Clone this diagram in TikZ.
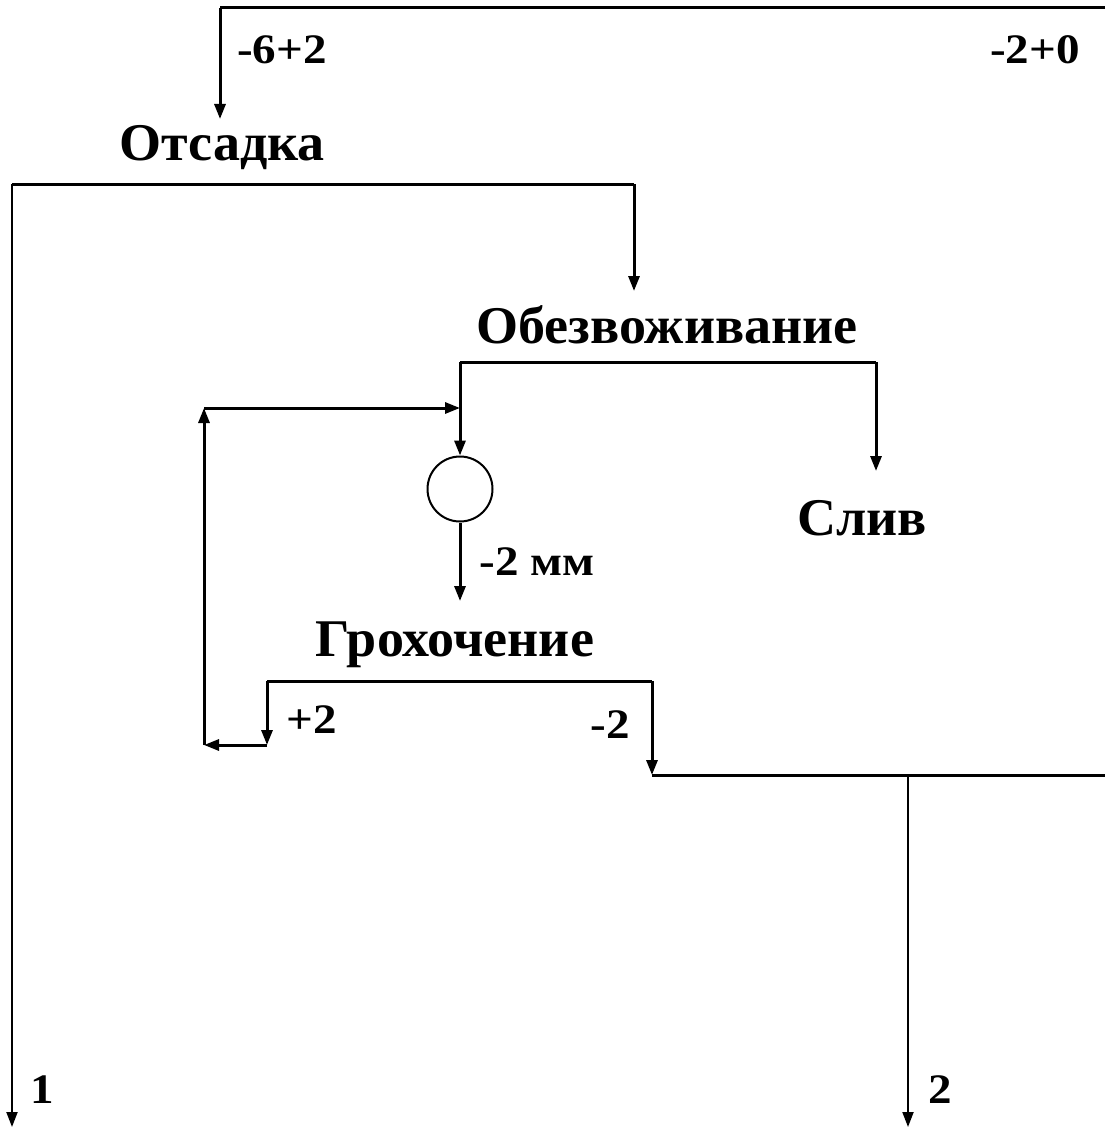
\documentclass[tikz,border=0pt]{standalone}
\usepackage{fontspec}
\setmainfont{Liberation Serif}
\usetikzlibrary{arrows.meta}
\tikzset{
  lbl/.style={font=\bfseries\fontsize{53}{58}\selectfont, inner sep=0pt, anchor=center, xscale=1.02},
  sml/.style={font=\bfseries\fontsize{42}{46}\selectfont, inner sep=0pt, anchor=center, xscale=1.12},
  flow/.style={line width=3pt},
  thinflow/.style={line width=2pt},
  arr/.style={-{Triangle[length=15pt,width=11pt]}},
}
\begin{document}
\begin{tikzpicture}[x=1pt,y=-1pt]
\useasboundingbox (0,0) rectangle (1105,1129);
% coordinates
\coordinate (tA) at (220,8);
\coordinate (tB) at (1105,8);
\coordinate (tIn) at (220,119);
\coordinate (oL) at (12,184);
\coordinate (oR) at (634,184);
\coordinate (out1) at (12,1127);
\coordinate (oIn) at (634,291);
\coordinate (bL) at (460,362);
\coordinate (bR) at (876,362);
\coordinate (slivIn) at (876,471);
\coordinate (rj) at (460,408);
\coordinate (gL) at (267,681);
\coordinate (gR) at (652,681);
\coordinate (gLe) at (267,745);
\coordinate (gRe) at (652,775);
\coordinate (rc) at (204,745);
\coordinate (rt) at (204,408);
\coordinate (m) at (1105,775);
\coordinate (sp) at (908,775);
\coordinate (out2) at (908,1127);
\coordinate (gIn) at (460,601);
% nodes
\node[draw, circle, line width=2pt, minimum size=65pt, inner sep=0pt] (circ) at (460,489) {};
\node[sml] (f1) at (282,50) {-6+2};
\node[sml] (f2) at (1035,50) {-2+0};
\node[lbl] (ots) at (222,148) {Отсадка};
\node[lbl] (obez) at (667,325) {Обезвоживание};
\node[lbl] (sliv) at (862,518) {Слив};
\node[sml] (mm) at (537,562) {-2 мм};
\node[lbl] (groh) at (455,645) {Грохочение};
\node[sml] (p2) at (312,720) {+2};
\node[sml] (m2) at (610,725) {-2};
\node[sml] (n1) at (42,1090) {1};
\node[sml] (n2) at (940,1090) {2};
% connectors
\draw[flow] (tB) -- (tA);
\draw[flow,arr] (tA) -- (tIn);
\draw[flow] (oL) -- (oR);
\draw[thinflow,arr] (oL) -- (out1);
\draw[flow,arr] (oR) -- (oIn);
\draw[flow] (bL) -- (bR);
\draw[flow,arr] (bR) -- (slivIn);
\draw[flow,arr] (bL) -- (circ.north);
\draw[flow,arr] (circ.south) -- (gIn);
\draw[flow] (gL) -- (gR);
\draw[flow,arr] (gL) -- (gLe);
\draw[flow,arr] (gR) -- (gRe);
\draw[flow,arr] (gLe) -- (rc);
\draw[flow,arr] (rc) -- (rt);
\draw[flow,arr] (rt) -- (rj);
\draw[flow] (gRe) -- (m);
\draw[thinflow,arr] (sp) -- (out2);
\end{tikzpicture}
\end{document}
